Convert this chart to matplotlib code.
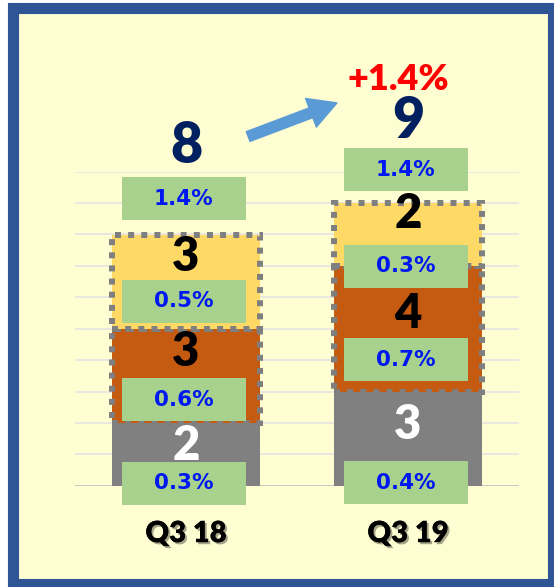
"""Stacked count chart, Q3 18 vs Q3 19, with share labels."""

import matplotlib.patches as mpatches
import matplotlib.patheffects as pe
import matplotlib.pyplot as plt
import numpy as np

# data
quarters = ["Q3 18", "Q3 19"]
gray_vals = [2, 3]
orange_vals = [3, 4]
yellow_vals = [3, 2]
gray_pct = ["0.3%", "0.4%"]
orange_pct = ["0.6%", "0.7%"]
yellow_pct = ["0.5%", "0.3%"]
total_pct = ["1.4%", "1.4%"]
change_label = "+1.4%"

COLORS = {
    "bg": "#FFFDD2",
    "frame": "#2F5597",
    "gray": "#808080",
    "orange": "#C55A11",
    "yellow": "#FFD966",
    "green": "#A9D18E",
    "pct": "#0018F0",
    "total": "#002060",
    "arrow": "#5B9BD5",
    "red": "#FF0000",
    "grid": "#E4E4E4",
}

# label placement (data units): count label offset from segment top,
# share box centre offset from segment bottom
count_off = {"gray": [-0.74, -1.07], "orange": [-0.74, -1.53], "yellow": [-0.72, -0.36]}
pct_off = {"gray": [0.08, 0.09], "orange": [0.74, 1.01], "yellow": [0.87, -0.01]}
total_off = [1.14, 1.07]
total_num_off = [2.83, 2.6]
BOX_W, BOX_H = 0.56, 1.37

fig = plt.figure(figsize=(5.54, 5.87), dpi=100)
fig.patch.set_facecolor("white")

# outer frame
frame = mpatches.Rectangle((12.5 / 554, 3 / 587), 540 / 554, 576 / 587,
                           transform=fig.transFigure, facecolor=COLORS["bg"],
                           edgecolor=COLORS["frame"], linewidth=8, zorder=-10)
fig.patches.append(frame)

ax = fig.add_axes([75 / 554, 101.3 / 587, 444 / 554, 314 / 587])
ax.set_zorder(1)
ax.set_facecolor("none")
ax.set_xlim(-0.5, 1.5)
ax.set_ylim(0, 10)
for s in ax.spines.values():
    s.set_visible(False)
ax.set_yticks(np.arange(1, 11))
ax.yaxis.grid(True, color=COLORS["grid"], linewidth=1.2)
ax.tick_params(axis="y", left=False, labelleft=False)
ax.axhline(0, color="#BFBFBF", linewidth=1.2, zorder=1)
ax.set_axisbelow(True)

x = np.arange(len(quarters))
gray = np.array(gray_vals)
orange = np.array(orange_vals)
yellow = np.array(yellow_vals)
dots = dict(edgecolor="#7F7F7F", linewidth=4.3, linestyle=(0, (1, 1.2)))

ax.bar(x, gray, width=0.667, color=COLORS["gray"], zorder=2)
ax.bar(x, orange, bottom=gray, width=0.667, color=COLORS["orange"], zorder=2, **dots)
ax.bar(x, yellow, bottom=gray + orange, width=0.667, color=COLORS["yellow"],
       zorder=3, **dots)

bottoms = {"gray": np.zeros(2), "orange": gray, "yellow": gray + orange}
heights = {"gray": gray, "orange": orange, "yellow": yellow}
pcts = {"gray": gray_pct, "orange": orange_pct, "yellow": yellow_pct}
total = gray + orange + yellow

count_font = dict(family="Lato", fontweight="heavy", fontsize=34, ha="center", va="center")
pct_font = dict(family="DejaVu Sans", fontweight="bold", fontsize=15.5,
                color=COLORS["pct"], ha="center", va="center")


def share_box(xc, yc, label):
    rect = mpatches.Rectangle((xc - 0.01 - BOX_W / 2, yc - BOX_H / 2), BOX_W, BOX_H,
                              facecolor=COLORS["green"], edgecolor="none",
                              zorder=5, clip_on=False)
    ax.add_patch(rect)
    ax.text(xc - 0.01, yc, label, zorder=6, **pct_font)


for seg in ["gray", "orange", "yellow"]:
    for i in range(len(quarters)):
        top = bottoms[seg][i] + heights[seg][i]
        ax.text(x[i], top + count_off[seg][i], str(heights[seg][i]), zorder=4,
                color="white" if seg == "gray" else "black", **count_font)
        share_box(x[i], bottoms[seg][i] + pct_off[seg][i], pcts[seg][i])

for i in range(len(quarters)):
    share_box(x[i], total[i] + total_off[i], total_pct[i])
    ax.text(x[i], total[i] + total_num_off[i], str(total[i]), color=COLORS["total"],
            family="Lato", fontweight="heavy", fontsize=40, ha="center", va="center",
            clip_on=False)

# growth arrow and change label
ax.annotate("", xy=(0.68, 12.19), xytext=(0.28, 11.12), annotation_clip=False,
            arrowprops=dict(arrowstyle="simple,head_length=2.0,head_width=2.2,tail_width=0.75",
                            mutation_scale=10, color=COLORS["arrow"], shrinkA=0, shrinkB=0))
ax.text(0.955, 12.95, change_label, color=COLORS["red"], family="Lato",
        fontweight="heavy", fontsize=26, ha="center", va="center", clip_on=False)

ax.set_xticks(x)
ax.set_xticklabels(quarters, family="Lato", fontweight="heavy", fontsize=21)
ax.tick_params(axis="x", bottom=False, pad=22)
for lbl in ax.get_xticklabels():
    lbl.set_path_effects([pe.withSimplePatchShadow(offset=(1.5, -1.5), alpha=0.35),
                          pe.Normal()])

fig.savefig("out.png", dpi=100, facecolor=fig.get_facecolor())
